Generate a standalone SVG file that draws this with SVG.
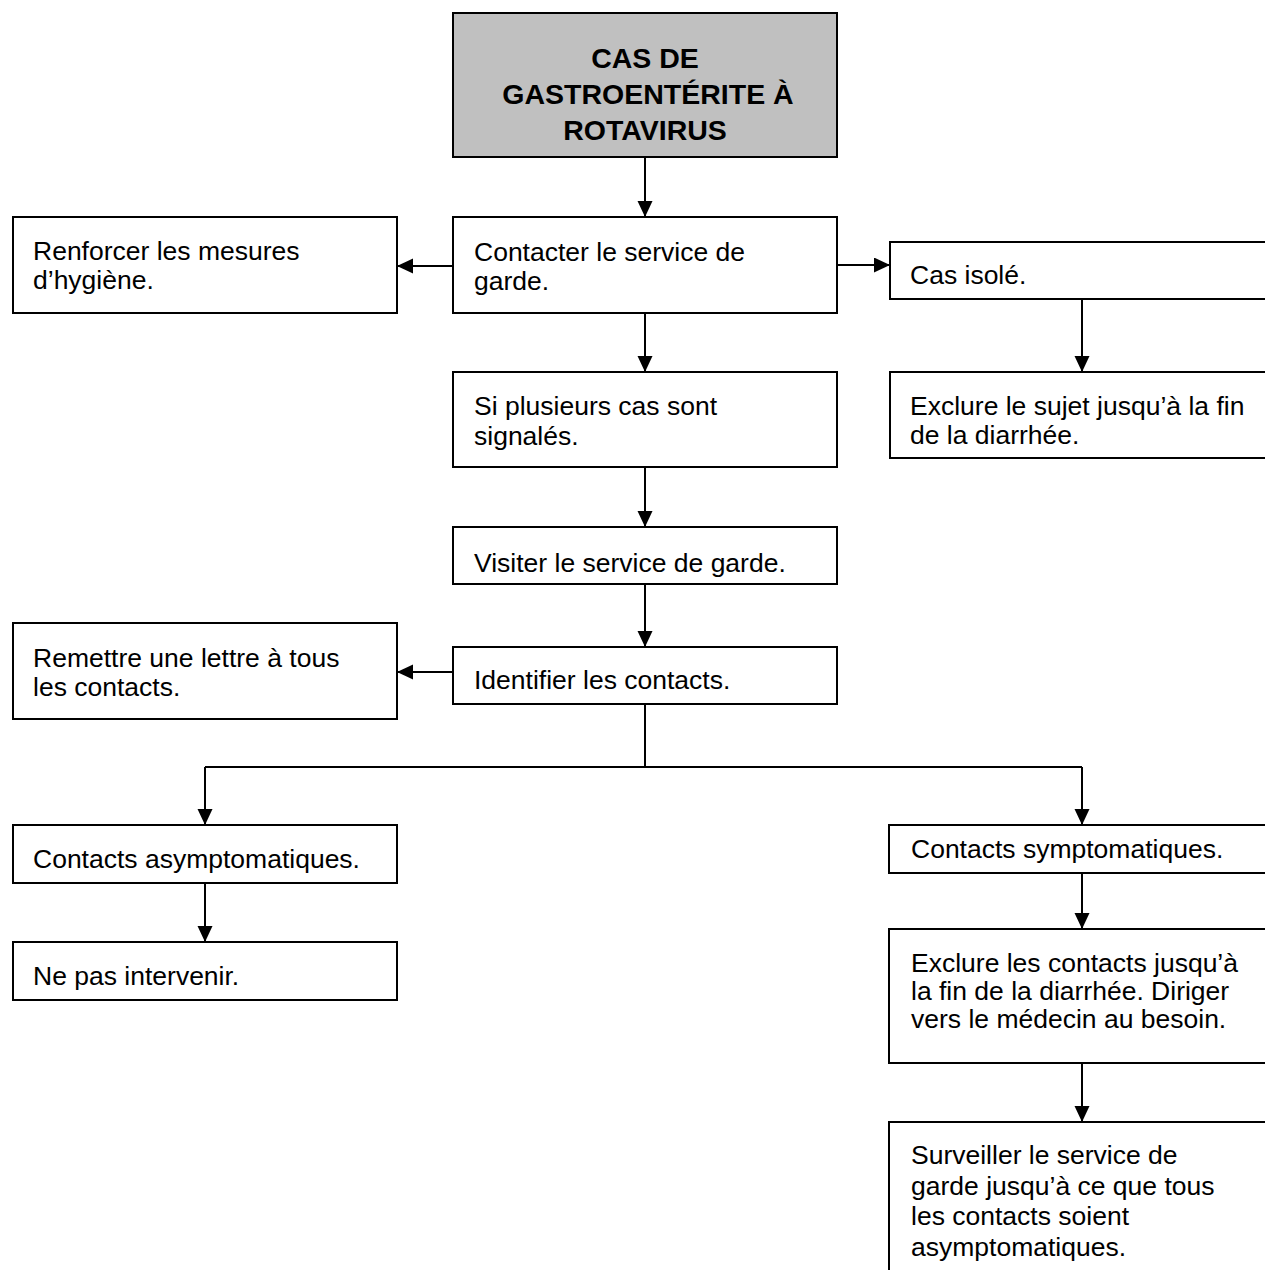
<svg xmlns="http://www.w3.org/2000/svg" width="1265" height="1270" viewBox="0 0 1265 1270">
<style>
.box{fill:#ffffff;stroke:#000000;stroke-width:2}
.title{fill:#c0c0c0;stroke:#000000;stroke-width:2}
.t{font-family:"Liberation Sans",Arial,sans-serif;font-size:26.5px;fill:#000000}
.tb{font-family:"Liberation Sans",Arial,sans-serif;font-size:28.5px;font-weight:bold;fill:#000000;text-anchor:middle}
.c{stroke:#000000;stroke-width:2;fill:none}
</style>
<defs>
<marker id="ah" markerUnits="userSpaceOnUse" markerWidth="16" markerHeight="16" refX="16" refY="7.5" orient="auto">
<path d="M0,0 L16,7.5 L0,15 z" fill="#000000"/>
</marker>
</defs>
<rect width="1265" height="1270" fill="#ffffff"/>
<g id="connectors">
<line class="c" x1="645" y1="157" x2="645" y2="217" marker-end="url(#ah)"/>
<line class="c" x1="453" y1="266" x2="397" y2="266" marker-end="url(#ah)"/>
<line class="c" x1="837" y1="265" x2="890" y2="265" marker-end="url(#ah)"/>
<line class="c" x1="1082" y1="299" x2="1082" y2="372" marker-end="url(#ah)"/>
<line class="c" x1="645" y1="313" x2="645" y2="372" marker-end="url(#ah)"/>
<line class="c" x1="645" y1="467" x2="645" y2="527" marker-end="url(#ah)"/>
<line class="c" x1="645" y1="584" x2="645" y2="647" marker-end="url(#ah)"/>
<line class="c" x1="453" y1="672" x2="397" y2="672" marker-end="url(#ah)"/>
<polyline class="c" points="645,704 645,767"/>
<line class="c" x1="205" y1="767" x2="1082" y2="767"/>
<line class="c" x1="205" y1="767" x2="205" y2="825" marker-end="url(#ah)"/>
<line class="c" x1="1082" y1="767" x2="1082" y2="825" marker-end="url(#ah)"/>
<line class="c" x1="205" y1="883" x2="205" y2="942" marker-end="url(#ah)"/>
<line class="c" x1="1082" y1="873" x2="1082" y2="929" marker-end="url(#ah)"/>
<line class="c" x1="1082" y1="1063" x2="1082" y2="1122" marker-end="url(#ah)"/>
</g>
<g id="n-title">
<rect class="title" x="453" y="13" width="384" height="144"/>
<text class="tb" x="645" y="68">CAS DE</text>
<text class="tb" x="648" y="104">GASTROENTÉRITE À</text>
<text class="tb" x="645" y="140">ROTAVIRUS</text>
</g>
<g id="n-contacter">
<rect class="box" x="453" y="217" width="384" height="96"/>
<text class="t" x="474" y="261">Contacter le service de</text>
<text class="t" x="474" y="290">garde.</text>
</g>
<g id="n-renforcer">
<rect class="box" x="13" y="217" width="384" height="96"/>
<text class="t" x="33" y="260">Renforcer les mesures</text>
<text class="t" x="33" y="289">d’hygiène.</text>
</g>
<g id="n-isole">
<rect class="box" x="890" y="242" width="390" height="57"/>
<text class="t" x="910" y="284">Cas isolé.</text>
</g>
<g id="n-exclure-sujet">
<rect class="box" x="890" y="372" width="390" height="86"/>
<text class="t" x="910" y="415">Exclure le sujet jusqu’à la fin</text>
<text class="t" x="910" y="444">de la diarrhée.</text>
</g>
<g id="n-plusieurs">
<rect class="box" x="453" y="372" width="384" height="95"/>
<text class="t" x="474" y="415">Si plusieurs cas sont</text>
<text class="t" x="474" y="445">signalés.</text>
</g>
<g id="n-visiter">
<rect class="box" x="453" y="527" width="384" height="57"/>
<text class="t" x="474" y="572">Visiter le service de garde.</text>
</g>
<g id="n-identifier">
<rect class="box" x="453" y="647" width="384" height="57"/>
<text class="t" x="474" y="689">Identifier les contacts.</text>
</g>
<g id="n-remettre">
<rect class="box" x="13" y="623" width="384" height="96"/>
<text class="t" x="33" y="667">Remettre une lettre à tous</text>
<text class="t" x="33" y="696">les contacts.</text>
</g>
<g id="n-asympt">
<rect class="box" x="13" y="825" width="384" height="58"/>
<text class="t" x="33" y="868">Contacts asymptomatiques.</text>
</g>
<g id="n-nepas">
<rect class="box" x="13" y="942" width="384" height="58"/>
<text class="t" x="33" y="985">Ne pas intervenir.</text>
</g>
<g id="n-sympt">
<rect class="box" x="889" y="825" width="390" height="48"/>
<text class="t" x="911" y="858">Contacts symptomatiques.</text>
</g>
<g id="n-exclure-contacts">
<rect class="box" x="889" y="929" width="390" height="134"/>
<text class="t" x="911" y="972">Exclure les contacts jusqu’à</text>
<text class="t" x="911" y="1000">la fin de la diarrhée. Diriger</text>
<text class="t" x="911" y="1028">vers le médecin au besoin.</text>
</g>
<g id="n-surveiller">
<rect class="box" x="889" y="1122" width="390" height="160"/>
<text class="t" x="911" y="1164">Surveiller le service de</text>
<text class="t" x="911" y="1195">garde jusqu’à ce que tous</text>
<text class="t" x="911" y="1225">les contacts soient</text>
<text class="t" x="911" y="1256">asymptomatiques.</text>
</g>
</svg>
